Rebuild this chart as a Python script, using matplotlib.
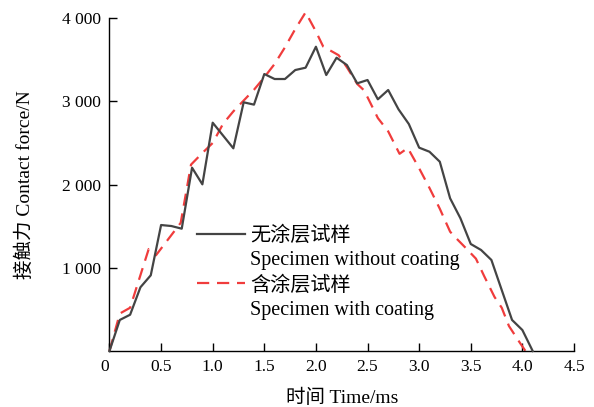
import matplotlib
matplotlib.use("Agg")
import matplotlib.pyplot as plt
from matplotlib.lines import Line2D

plt.rcParams['font.family'] = ['Liberation Serif', 'Noto Sans CJK SC']
plt.rcParams['axes.unicode_minus'] = False

# uncoated specimen, sampled every 0.1 ms
t_plain = [0.0, 0.1, 0.2, 0.3, 0.4, 0.5, 0.6, 0.7, 0.8, 0.9, 1.0, 1.1, 1.2, 1.3,
           1.4, 1.5, 1.6, 1.7, 1.8, 1.9, 2.0, 2.1, 2.2, 2.3, 2.4, 2.5, 2.6, 2.7,
           2.8, 2.9, 3.0, 3.1, 3.2, 3.3, 3.4, 3.5, 3.6, 3.7, 3.8, 3.9, 4.0, 4.1]
f_plain = [0, 373, 436, 766, 910, 1514, 1502, 1470, 2203, 2003, 2744, 2590, 2436, 2989,
           2961, 3329, 3269, 3269, 3377, 3405, 3657, 3317, 3525, 3437, 3217, 3257, 3025, 3137,
           2905, 2728, 2444, 2395, 2275, 1835, 1595, 1286, 1214, 1094, 733, 373, 252, 0]

# coated specimen
t_coat = [0.0, 0.1, 0.2, 0.38, 0.45, 0.69, 0.79, 0.9, 1.0, 1.1, 1.2, 1.3, 1.4, 1.5,
          1.6, 1.7, 1.8, 1.9, 2.0, 2.07, 2.22, 2.3, 2.4, 2.46, 2.5, 2.6, 2.7, 2.81,
          2.89, 3.0, 3.1, 3.2, 3.3, 3.36, 3.45, 3.55, 3.63, 3.73, 3.8, 3.87, 3.97, 4.03]
f_coat = [0, 450, 520, 1225, 1150, 1540, 2240, 2380, 2500, 2730, 2880, 3010, 3140, 3290,
          3450, 3650, 3870, 4070, 3840, 3660, 3555, 3410, 3210, 3140, 3050, 2800, 2640, 2370,
          2440, 2196, 1960, 1710, 1434, 1354, 1240, 1110, 900, 650, 520, 300, 110, 0]

x_ticks = [0, 0.5, 1.0, 1.5, 2.0, 2.5, 3.0, 3.5, 4.0, 4.5]
x_labels = ['0', '0.5', '1.0', '1.5', '2.0', '2.5', '3.0', '3.5', '4.0', '4.5']
y_ticks = [1000, 2000, 3000, 4000]
y_labels = ['1 000', '2 000', '3 000', '4 000']

fig = plt.figure(figsize=(5.94, 4.07), dpi=100)
ax = fig.add_axes([0.1843, 0.1376, 0.7820, 0.8177])

ax.plot(t_plain, f_plain, color='#444444', lw=1.6, clip_on=False, zorder=3)
ax.plot(t_coat, f_coat, color='#f03c3c', lw=1.6, dashes=(5.5, 3.5), clip_on=False, zorder=2)

ax.set_xlim(0, 4.5)
ax.set_ylim(0, 4000)
ax.set_xticks(x_ticks)
ax.set_xticklabels(x_labels)
ax.get_xticklabels()[0].set_horizontalalignment('right')
ax.set_yticks(y_ticks)
ax.set_yticklabels(y_labels)

for s in ['top', 'right']:
    ax.spines[s].set_visible(False)
for s in ['left', 'bottom']:
    ax.spines[s].set_linewidth(1.0)
ax.tick_params(direction='in', length=5.5, width=1.0, labelsize=12.5, pad=6)

ax.set_xlabel('时间 Time/ms', fontsize=14, labelpad=10)
ax.set_ylabel('接触力 Contact force/N', fontsize=14, labelpad=20)

handles = [Line2D([], [], color='#444444', lw=1.6),
           Line2D([], [], color='none'),
           Line2D([], [], color='#f03c3c', lw=1.6, dashes=(5.5, 3.5)),
           Line2D([], [], color='none')]
labels = ['无涂层试样', 'Specimen without coating', '含涂层试样', 'Specimen with coating']
ax.legend(handles, labels, loc='upper left', bbox_to_anchor=(0.188, 0.375),
          frameon=False, fontsize=14.5, handlelength=2.4, handletextpad=0.25,
          labelspacing=0.28, borderpad=0, borderaxespad=0)

fig.savefig('out.png', dpi=100)
